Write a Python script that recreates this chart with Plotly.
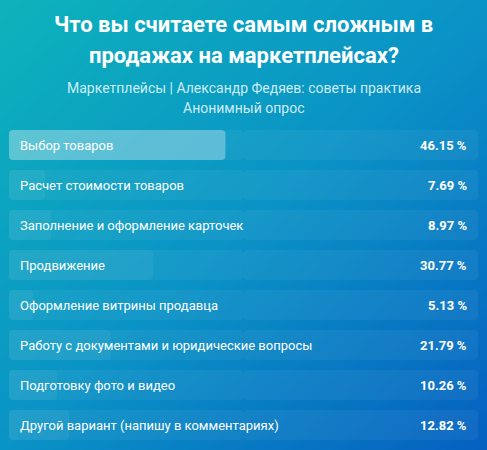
import plotly.graph_objects as go

categories = [
    "Выбор товаров",
    "Расчет стоимости товаров",
    "Заполнение и оформление карточек",
    "Продвижение",
    "Оформление витрины продавца",
    "Работу с документами и юридические вопросы",
    "Подготовку фото и видео",
    "Другой вариант (напишу в комментариях)",
]
percents = [46.15, 7.69, 8.97, 30.77, 5.13, 21.79, 10.26, 12.82]
title_lines = ["Что вы считаете самым сложным в", "продажах на маркетплейсах?"]
subtitle_lines = ["Маркетплейсы | Александр Федяев: советы практика", "Анонимный опрос"]

W, H = 487, 450
FONT = "Roboto"

fig = go.Figure()

# background diagonal gradient (decorative), on the first (bottom) subplot
fig.add_trace(go.Heatmap(
    z=[[0, 1], [1, 2]], x=[0, 1], y=[1, 0],
    colorscale=[[0, "#0db3bb"], [0.5, "#0a93c6"], [1, "#0560c0"]],
    zsmooth="best", showscale=False, hoverinfo="skip",
    xaxis="x", yaxis="y",
))

n = len(categories)
ys = list(range(n))
top = max(percents)

# row backgrounds (two halves so both ends get rounded)
for sign in (1, -1):
    fig.add_trace(go.Bar(y=ys, x=[50 * sign] * n, base=[50] * n, orientation="h",
                         marker=dict(color="rgba(255,255,255,0.05)", line=dict(width=0)),
                         hoverinfo="skip", showlegend=False, xaxis="x2", yaxis="y2"))
# filled portions (drawn from value back to 0 so left corners are rounded)
fill_colors = ["rgba(255,255,255,0.30)" if p == top else "rgba(255,255,255,0.05)" for p in percents]
fig.add_trace(go.Bar(y=ys, x=[-p for p in percents], base=percents, orientation="h",
                     marker=dict(color=fill_colors, line=dict(width=0)),
                     hoverinfo="skip", showlegend=False, xaxis="x2", yaxis="y2"))

x0, x1 = 9 / W, 478 / W
ann = []
for i, (c, p) in enumerate(zip(categories, percents)):
    ann.append(dict(x=18 / W, xref="paper", y=i, yref="y2", text=c, showarrow=False,
                    xanchor="left", yanchor="middle",
                    font=dict(family=FONT, size=13, color="white")))
    ann.append(dict(x=469 / W, xref="paper", y=i, yref="y2", text=f"<b>{p:.2f} %</b>",
                    showarrow=False, xanchor="right", yanchor="middle",
                    font=dict(family=FONT, size=13, color="white")))
for t, yp in zip(title_lines, [24, 55]):
    ann.append(dict(x=0.5, xref="paper", y=1 - yp / H, yref="paper", text=f"<b>{t}</b>",
                    showarrow=False, xanchor="center", yanchor="middle",
                    font=dict(family=FONT, size=22, color="white")))
for t, yp in zip(subtitle_lines, [88, 108]):
    ann.append(dict(x=0.5, xref="paper", y=1 - yp / H, yref="paper", text=t,
                    showarrow=False, xanchor="center", yanchor="middle",
                    font=dict(family=FONT, size=14, color="rgba(225,245,250,0.92)")))

fig.update_layout(
    width=W, height=H,
    margin=dict(l=0, r=0, t=0, b=0),
    paper_bgcolor="#0a93c6", plot_bgcolor="rgba(0,0,0,0)",
    barmode="overlay", bargap=0.25, barcornerradius=4,
    showlegend=False,
    xaxis=dict(domain=[0, 1], range=[0, 1], visible=False, fixedrange=True),
    yaxis=dict(domain=[0, 1], range=[0, 1], visible=False, fixedrange=True),
    xaxis2=dict(domain=[x0, x1], range=[0, 100], visible=False, anchor="y2", fixedrange=True),
    yaxis2=dict(domain=[1 - 445 / H, 1 - 125 / H], range=[n - 0.5, -0.5], visible=False,
                anchor="x2", fixedrange=True),
    annotations=ann,
)

fig.write_html("out.html")
